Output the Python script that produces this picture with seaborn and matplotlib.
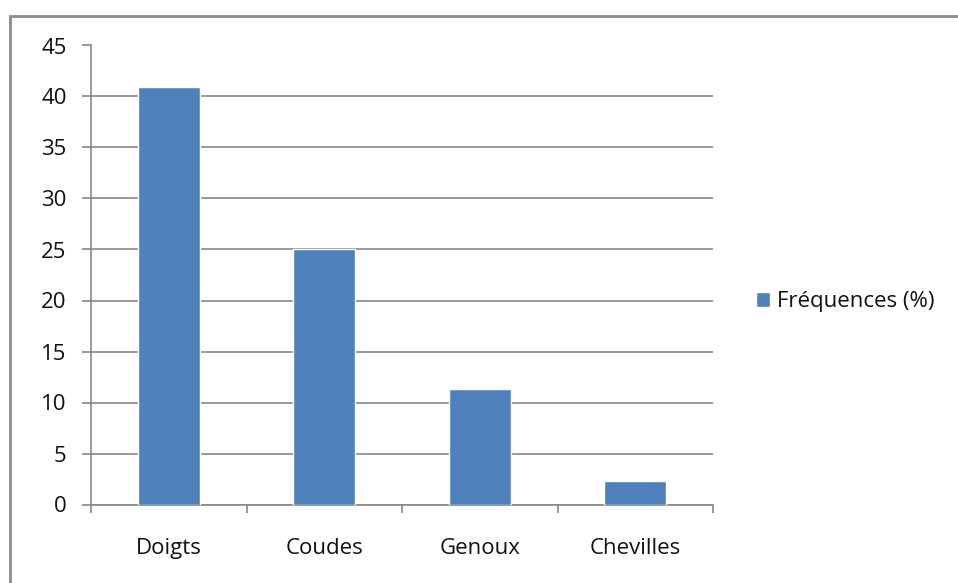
import matplotlib
matplotlib.use("Agg")
import matplotlib.pyplot as plt
import matplotlib.patches as mpatches
import seaborn as sns
import pandas as pd

# Body sites and their share of cases
categories = ["Doigts", "Coudes", "Genoux", "Chevilles"]
frequences = [40.9, 25.0, 11.3, 2.3]
series_label = "Fréquences (%)"
y_ticks = [0, 5, 10, 15, 20, 25, 30, 35, 40, 45]

df = pd.DataFrame({"site": categories, "freq": frequences})

sns.set_theme(style="white")
plt.rcParams["font.family"] = ["Open Sans", "DejaVu Sans"]

W, H = 958, 583
fig = plt.figure(figsize=(W / 100, H / 100), dpi=100)
fig.patch.set_facecolor("white")

# Outer chart frame (only top and left edges fall inside the canvas)
frame = mpatches.Rectangle((9.5 / W, -0.05), 1.2, (H - 16) / H + 0.05,
                           transform=fig.transFigure, fill=False,
                           edgecolor="#8c8c8c", linewidth=2.0, zorder=0)
fig.patches.append(frame)

left, right = 91 / W, 713 / W
bottom, top = (H - 504.5) / H, (H - 45.5) / H
ax = fig.add_axes([left, bottom, right - left, top - bottom])

gray = "#888888"
sns.barplot(data=df, x="site", y="freq", color="#4F81BD", width=0.4,
            saturation=1, label=series_label, ax=ax, zorder=3)

ax.set_xlim(-0.5, len(categories) - 0.5)
ax.set_ylim(0, 45)
ax.set_yticks(y_ticks)
ax.set_xlabel("")
ax.set_ylabel("")

ax.yaxis.grid(True, color=gray, linewidth=1.2)
ax.set_axisbelow(True)
for side in ("top", "right"):
    ax.spines[side].set_visible(False)
for side in ("left", "bottom"):
    ax.spines[side].set_color(gray)
    ax.spines[side].set_linewidth(1.2)

fs = 16
# Category boundary ticks on the x axis, labels centered under bars
ax.set_xticks([i - 0.5 for i in range(len(categories) + 1)], minor=True)
ax.tick_params(axis="x", which="minor", direction="out", length=5.5,
               width=1.2, color=gray, bottom=True)
ax.tick_params(axis="x", which="major", length=0, pad=24, labelsize=fs,
               labelcolor="#111111")
ax.tick_params(axis="y", which="major", direction="out", length=6.5,
               width=1.2, color=gray, left=True, pad=11, labelsize=fs,
               labelcolor="#111111")

leg = ax.legend(loc="center left", bbox_to_anchor=(747 / W, (H - 302) / H),
                bbox_transform=fig.transFigure, frameon=False, fontsize=fs,
                handlelength=0.65, handleheight=0.65, handletextpad=0.3,
                borderaxespad=0)
for t in leg.get_texts():
    t.set_color("#111111")

fig.savefig("out.png", dpi=100)
